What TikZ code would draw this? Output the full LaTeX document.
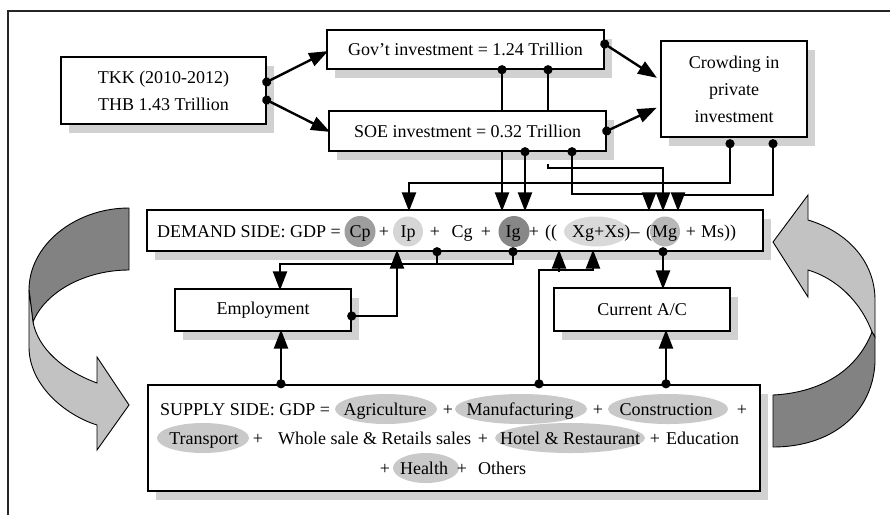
\documentclass[tikz,border=0pt]{standalone}
\usepackage{fontspec}
\setmainfont{Liberation Serif}
\usetikzlibrary{arrows.meta,calc,shadows,shapes.geometric}

\definecolor{shade}{gray}{0.82}
\definecolor{ribdark}{gray}{0.51}
\definecolor{riblight}{gray}{0.76}
\definecolor{ovalgray}{gray}{0.79}
\definecolor{cpgray}{gray}{0.62}
\definecolor{ipgray}{gray}{0.84}
\definecolor{iggray}{gray}{0.53}
\definecolor{xgray}{gray}{0.85}
\definecolor{mggray}{gray}{0.72}

\tikzset{
  bigtip/.tip={Triangle[length=19pt 0 0,width=14pt 0 0]},
  bigdot/.tip={Circle[length=9pt 0 0]}
}

\begin{document}
\begin{tikzpicture}[x=1pt,y=-1pt,
  font=\fontsize{18}{27}\selectfont,
  panel/.style={draw, line width=1.4pt, fill=white, inner sep=0pt, align=center,
    drop shadow={shadow xshift=8pt, shadow yshift=-9pt, fill=shade, opacity=1}},
  lbl/.style={inner sep=0pt, anchor=base},
  blob/.style={ellipse, inner sep=0pt, minimum height=30pt, fill=ovalgray},
  wire/.style={line width=2.4pt, shorten >=-2pt},
  arr/.style={wire, -bigtip},
  dotarr/.style={wire, bigdot-bigtip, shorten <=-4.5pt},
  dotline/.style={wire, bigdot-, shorten <=-4.5pt, shorten >=0pt},
  ribbon/.style={draw=black, line width=0.9pt, line join=miter}]

\useasboundingbox (0,0) rectangle (890,515);
\fill[white] (0,0) rectangle (890,515);

% outer frame
\draw[line width=1.1pt, black!85] (8,515) -- (8,11) -- (890,11);

% boxes
\node[panel, minimum width=205pt, minimum height=67pt] (tkk) at (163.5,90.5)
  {TKK (2010-2012)\\THB 1.43 Trillion};
\node[panel, minimum width=277pt, minimum height=39pt] (gov) at (465.5,49.5)
  {Gov’t investment = 1.24 Trillion};
\node[panel, minimum width=277pt, minimum height=40pt] (soe) at (467.5,131)
  {SOE investment = 0.32 Trillion};
\node[panel, minimum width=146pt, minimum height=96pt] (crowd) at (734,89)
  {Crowding in\\private\\investment};
\node[panel, minimum width=616pt, minimum height=41pt] (demand) at (455,230.5) {};
\node[panel, minimum width=176pt, minimum height=42pt] (employ) at (263,310) {Employment};
\node[panel, minimum width=176pt, minimum height=43pt] (current) at (642,309.5) {Current A/C};
\node[panel, line width=2.4pt, minimum width=612pt, minimum height=106pt] (supply) at (454,438) {};

% demand side formula
\node[blob, fill=cpgray, minimum width=31pt, minimum height=31pt] (ocp) at (360,231.5) {};
\node[blob, fill=ipgray, minimum width=30pt, minimum height=30pt] (oip) at (408,231.5) {};
\node[blob, fill=iggray, minimum width=31pt, minimum height=31pt] (oig) at (514,231.5) {};
\node[blob, fill=xgray, minimum width=64pt, minimum height=30pt] (oxs) at (596,231.5) {};
\node[blob, fill=mggray, minimum width=30pt, minimum height=30pt] (omg) at (665,231.5) {};

\node[lbl, anchor=base west] (dlab) at (157,237) {DEMAND SIDE: GDP =};
\node[lbl] (dcp) at (360,237) {Cp};
\node[lbl] (dp1) at (384,237) {+};
\node[lbl] (dip) at (408,237) {Ip};
\node[lbl] (dp2) at (435,237) {+};
\node[lbl] (dcg) at (462,237) {Cg};
\node[lbl] (dp3) at (486,237) {+};
\node[lbl] (dig) at (513,237) {Ig};
\node[lbl] (dp4) at (534,237) {+};
\node[lbl] (dpar) at (551,237) {((};
\node[lbl, anchor=base west] (dxs) at (572,237) {Xg+Xs)};
\node[lbl] (dmin) at (635,237) {–};
\node[lbl, anchor=base west] (dmg) at (646,237) {(Mg};
\node[lbl] (dp5) at (691,237) {+};
\node[lbl, anchor=base west] (dms) at (701,237) {Ms))};

% supply side formula
\node[blob, minimum width=102pt] (oagr) at (386,409) {};
\node[blob, minimum width=132pt] (oman) at (521,409) {};
\node[blob, minimum width=120pt] (ocon) at (668,409) {};
\node[blob, minimum width=92pt] (otra) at (203,438) {};
\node[blob, minimum width=150pt] (ohot) at (570,438) {};
\node[blob, minimum width=66pt] (ohea) at (426,468) {};

\node[lbl, anchor=base west] (slab) at (160,415) {SUPPLY SIDE: GDP =};
\node[lbl] (sagr) at (385,415) {Agriculture};
\node[lbl] (sp1) at (448,415) {+};
\node[lbl] (sman) at (520,415) {Manufacturing};
\node[lbl] (sp2) at (598,415) {+};
\node[lbl] (scon) at (666,415) {Construction};
\node[lbl] (sp3) at (742,415) {+};
\node[lbl] (stra) at (204,444) {Transport};
\node[lbl] (sp4) at (258,444) {+};
\node[lbl, anchor=base west] (swho) at (278,444) {Whole sale \& Retails sales};
\node[lbl] (sp5) at (483,444) {+};
\node[lbl] (shot) at (570,444) {Hotel \& Restaurant};
\node[lbl] (sp6) at (655,444) {+};
\node[lbl, anchor=base west] (sedu) at (666,444) {Education};
\node[lbl] (sp7) at (385,474) {+};
\node[lbl] (shea) at (424,474) {Health};
\node[lbl] (sp8) at (462,474) {+};
\node[lbl, anchor=base west] (soth) at (478,474) {Others};

% top connectors
\draw[dotarr] ($(tkk.east)+(0,-8.5)$) -- ($(gov.west)+(0,2.5)$);
\draw[dotarr] ($(tkk.east)+(0,9.5)$) -- (soe.west);
\draw[dotarr, shorten >=4pt] ($(gov.east)+(0,-5.5)$) -- ($(crowd.west)+(0,-9)$);
\draw[dotarr, shorten >=4pt] (soe.east) -- ($(crowd.west)+(0,17)$);

\draw[dotline] ($(gov.south)+(36.5,0)$) -- ($(soe.north)+(34.5,0)$);
\draw[arr] ($(soe.south)+(34.5,0)$) -- ($(demand.north)+(47,0)$);
\draw[dotline] ($(gov.south)+(82.5,0)$) -- ($(soe.north)+(80.5,0)$);
\draw[arr] ($(soe.south)+(80.5,12)$) -- ++(0,4) -| ($(demand.north)+(208,0)$);
\draw[dotarr] ($(soe.south)+(57.5,0)$) -- ($(demand.north)+(70,0)$);
\draw[dotarr] ($(soe.south)+(104.5,0)$) -- ++(0,42) -| ($(demand.north)+(194,0)$);
\draw[dotarr] ($(crowd.south)+(-4,6)$) -- ++(0,39) -| ($(demand.north)+(-46,0)$);
\draw[dotarr] ($(crowd.south)+(39,6)$) -- ++(0,51) -| ($(demand.north)+(223,0)$);

% lower connectors
\draw[dotarr] ($(demand.south)+(58,0)$) -- ++(0,12) -| ($(employ.north)+(17,0)$);
\draw[dotline] ($(demand.south)+(-18,0)$) -- ++(0,12);
\draw[dotarr] ($(employ.east)+(0,6)$) -| ($(demand.south)+(-58,0)$);
\draw[dotarr] ($(demand.south)+(208,0)$) -- ($(current.north)+(21,0)$);
\draw[dotarr] ($(supply.north)+(-173,0)$) -- ($(employ.south)+(18,0)$);
\draw[dotarr] ($(supply.north)+(85,0)$) -- ++(0,-114) -| ($(demand.south)+(138,0)$);
\draw[arr] ($(demand.south)+(104,20)$) -- ($(demand.south)+(104,0)$);
\draw[dotarr] ($(supply.north)+(212,0)$) -- ($(current.south)+(24,0)$);

% left twisted arrow (demand down to supply)
\draw[ribbon, fill=ribdark] (129,208) .. controls (75,208) and (29,245) .. (29,290)
  -- (33,322) .. controls (45,292) and (85,270) .. (129,270) -- cycle;
\draw[ribbon, fill=riblight] (29,290) -- (29,347) .. controls (29,385) and (65,415) .. (97,425)
  -- (97,450) -- (129,405) -- (97,357) -- (97,383)
  .. controls (62,370) and (38,348) .. (33,322) -- cycle;

% right twisted arrow (supply up to demand)
\draw[ribbon, fill=riblight] (773,242) -- (808,195) -- (808,220)
  .. controls (848,232) and (875,262) .. (875,300) -- (875,337) -- (872,332)
  .. controls (860,300) and (835,278) .. (808,270) -- (808,297) -- cycle;
\draw[ribbon, fill=ribdark] (872,332) -- (875,337) -- (875,363)
  .. controls (872,415) and (830,447) .. (773,447) -- (773,395)
  .. controls (815,393) and (855,375) .. (872,332) -- cycle;

\end{tikzpicture}
\end{document}
